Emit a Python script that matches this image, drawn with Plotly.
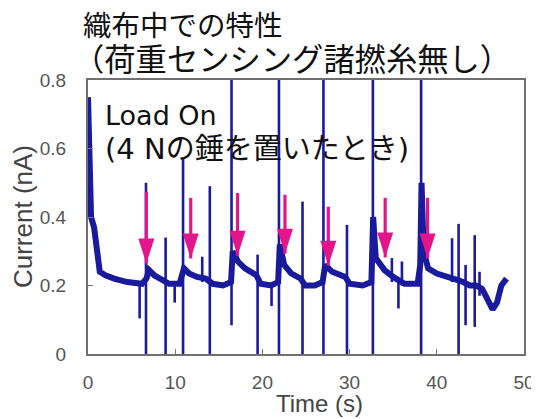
import plotly.graph_objects as go

# ---------------- data ----------------
# smooth part of the current trace (time s, current nA)
base_t = [0.0, 0.12, 0.2, 0.35, 0.7, 1.0, 1.15, 1.35, 2.0, 3.0, 4.5, 5.7, 6.2, 6.7, 7.0,
          7.6, 8.5, 9.3, 10.5, 11.0, 11.6, 12.5, 13.5, 14.3, 15.5, 16.4, 16.6, 17.2, 18.0,
          19.3, 19.8, 21.0, 21.8, 22.0, 22.5, 23.3, 24.4, 24.9, 26.0, 26.9, 27.2, 28.0,
          29.5, 30.0, 31.5, 32.5, 32.7, 33.0, 34.0, 35.0, 36.3, 37.8, 38.1, 38.25, 38.5,
          39.0, 40.0, 41.5, 42.5, 43.0, 43.8, 44.5, 45.2, 45.8, 46.4, 46.9, 47.4, 48.0]
base_v = [0.75, 0.60, 0.45, 0.40, 0.37, 0.32, 0.27, 0.24, 0.23, 0.22, 0.21, 0.205, 0.205,
          0.22, 0.245, 0.23, 0.215, 0.205, 0.205, 0.25, 0.235, 0.225, 0.22, 0.205, 0.20,
          0.21, 0.30, 0.27, 0.25, 0.23, 0.205, 0.20, 0.21, 0.32, 0.26, 0.235, 0.22, 0.20,
          0.20, 0.21, 0.26, 0.24, 0.225, 0.205, 0.20, 0.21, 0.40, 0.28, 0.245, 0.225,
          0.205, 0.205, 0.26, 0.50, 0.30, 0.25, 0.235, 0.225, 0.215, 0.21, 0.20, 0.20,
          0.19, 0.16, 0.13, 0.15, 0.20, 0.22]

# sharp spikes / dips: time, upper end, lower end
spike_t  = [5.92, 6.65, 8.9, 9.94, 10.9, 13.1, 13.97, 16.46, 19.45, 21.05, 21.9, 24.6,
            27.0, 29.7, 32.67, 34.85, 35.6, 36.0, 38.2, 41.75, 42.5, 43.3, 44.35, 44.9]
spike_hi = [0.20, 0.50, 0.34, 0.21, 0.57, 0.284, 0.49, 0.82, 0.29, 0.20, 0.82, 0.445,
            0.82, 0.377, 0.82, 0.28, 0.21, 0.27, 0.82, 0.338, 0.38, 0.26, 0.347, 0.24]
spike_lo = [0.104, 0.0, 0.0, 0.15, 0.0, 0.21, 0.0, 0.084, 0.0, 0.14, 0.0, 0.0,
            0.0, 0.0, 0.0, 0.21, 0.133, 0.20, 0.0, 0.21, 0.0, 0.084, 0.079, 0.17]

# "Load On" arrows: time, arrow top, arrow tip (nA)
arrow_t   = [6.69, 11.78, 17.15, 22.59, 27.56, 34.08, 38.94]
arrow_top = [0.474, 0.456, 0.470, 0.465, 0.430, 0.456, 0.456]
arrow_tip = [0.264, 0.279, 0.287, 0.293, 0.258, 0.282, 0.279]

x_ticks = [0, 10, 20, 30, 40, 50]
y_ticks = [0, 0.2, 0.4, 0.6, 0.8]
y_tick_text = ["0", "0.2", "0.4", "0.6", "0.8"]

title_lines = ["織布中での特性", "（荷重センシング諸撚糸無し）"]
note_lines = ["Load On", "(4 Nの錘を置いたとき)"]

# ---------------- figure ----------------
BLUE = "#1a1a9c"
PINK = "#e2168a"

sx, sy = [], []
for t, hi, lo in zip(spike_t, spike_hi, spike_lo):
    sx += [t, t, None]
    sy += [hi, lo, None]

ax_, ay_ = [], []
for t, top, tip in zip(arrow_t, arrow_top, arrow_tip):
    ax_ += [t, t, None]
    ay_ += [top, tip, None]

fig = go.Figure()
fig.add_trace(go.Scatter(x=base_t, y=base_v, mode="lines",
                         line=dict(color=BLUE, width=6), hoverinfo="skip"))
fig.add_trace(go.Scatter(x=sx, y=sy, mode="lines",
                         line=dict(color=BLUE, width=2.6), hoverinfo="skip"))
fig.add_trace(go.Scatter(x=ax_, y=ay_, mode="lines",
                         line=dict(color=PINK, width=3.2), hoverinfo="skip"))

for t, tip in zip(arrow_t, arrow_tip):
    fig.add_shape(type="path", xref="x", yref="y", xsizemode="pixel", ysizemode="pixel",
                  xanchor=t, yanchor=tip, path="M-8,25 L8,25 L0,0 Z",
                  fillcolor=PINK, line=dict(width=0))

# small cut-off box at right edge
fig.add_shape(type="rect", xref="paper", yref="paper", x0=1.025, x1=1.08, y0=0.398, y1=0.536,
              line=dict(color="#222", width=1.5), fillcolor="white")

fig.add_annotation(text=title_lines[0], xref="paper", yref="paper", x=-0.016, y=1.208,
                   xanchor="left", yanchor="middle", showarrow=False,
                   font=dict(family="Noto Sans CJK JP", size=28.5, color="#111"))
fig.add_annotation(text=title_lines[1], xref="paper", yref="paper", x=-0.040, y=1.082,
                   xanchor="left", yanchor="middle", showarrow=False,
                   font=dict(family="Noto Sans CJK JP", size=31.3, color="#111"))
fig.add_annotation(text=note_lines[0], xref="paper", yref="paper", x=0.034, y=0.872,
                   xanchor="left", yanchor="middle", showarrow=False,
                   font=dict(family="DejaVu Sans, Noto Sans CJK JP", size=27, color="#111"))
fig.add_annotation(text=note_lines[1], xref="paper", yref="paper", x=0.034, y=0.748,
                   xanchor="left", yanchor="middle", showarrow=False,
                   font=dict(family="DejaVu Sans, Noto Sans CJK JP", size=29, color="#111"))

fig.add_annotation(text="Current (nA)", xref="paper", yref="paper", x=-0.149, y=0.5,
                   textangle=-90, xanchor="center", yanchor="middle", showarrow=False,
                   font=dict(family="Liberation Sans, Arial", size=26, color="#444"))
fig.add_annotation(text="Time (s)", xref="paper", yref="paper", x=0.532, y=-0.18,
                   xanchor="center", yanchor="middle", showarrow=False,
                   font=dict(family="Liberation Sans, Arial", size=24, color="#444"))

tick_font = dict(family="Liberation Sans, Arial", size=19, color="#555")
fig.update_xaxes(range=[0, 50], tickvals=x_ticks, ticks="inside", ticklen=5,
                 tickcolor="#777", showline=True, linecolor="#707070", linewidth=2,
                 mirror=True, showgrid=False, zeroline=False, tickfont=tick_font,
                 ticklabelstandoff=10)
fig.update_yaxes(range=[0, 0.8], tickvals=y_ticks, ticktext=y_tick_text, ticks="inside",
                 ticklen=5, tickcolor="#777", showline=True, linecolor="#707070",
                 linewidth=2, mirror=True, showgrid=False, zeroline=False,
                 tickfont=tick_font, ticklabelstandoff=16)

fig.update_layout(width=539, height=419, margin=dict(l=80, r=23, t=72, b=73),
                  plot_bgcolor="white", paper_bgcolor="white", showlegend=False,
                  font=dict(family="Liberation Sans, Arial"))

fig.write_html("out.html")
